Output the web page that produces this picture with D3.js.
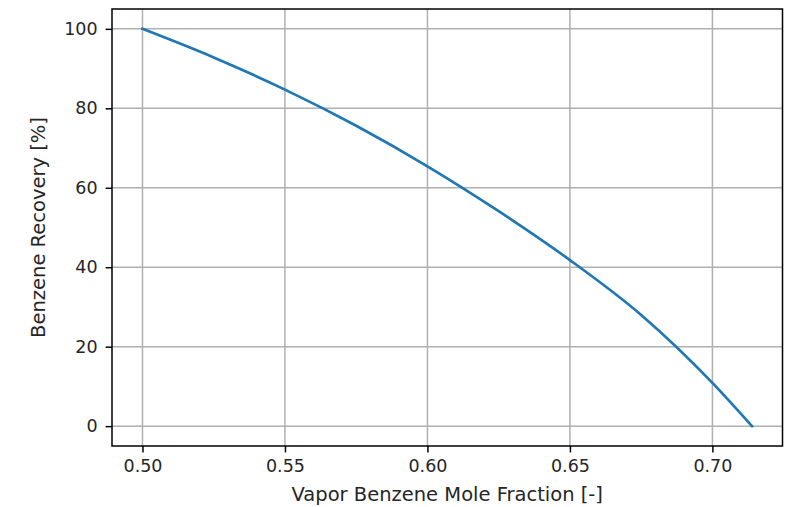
<!DOCTYPE html>
<html>
<head>
<meta charset="utf-8">
<script src="https://cdn.jsdelivr.net/npm/d3@7"></script>
<style>
  html, body { margin: 0; padding: 0; background: #fff; }
  svg { display: block; }
  text { font-family: "DejaVu Sans", sans-serif; fill: #262626; }
</style>
</head>
<body>
<svg id="chart" width="787" height="507"></svg>
<script>
// values
const vaporFraction = [0.50, 0.525, 0.55, 0.575, 0.60, 0.625, 0.65, 0.675, 0.70, 0.7139];
const recovery      = [100, 92.8, 84.7, 75.6, 65.4, 54.1, 41.8, 28.0, 10.9, 0];
const xTicks = [0.50, 0.55, 0.60, 0.65, 0.70];
const yTicks = [0, 20, 40, 60, 80, 100];

const W = 787, H = 507;
const margin = { top: 9, right: 4.5, bottom: 61, left: 112 };
const TICK_FONT = 17.5;
const LABEL_FONT = 19.5;

const svg = d3.select('#chart');
const innerW = W - margin.left - margin.right;
const innerH = H - margin.top - margin.bottom;

// matplotlib-style 5% margins around the data
const xMin = d3.min(vaporFraction), xMax = d3.max(vaporFraction);
const yMin = d3.min(recovery), yMax = d3.max(recovery);
const xPad = (xMax - xMin) * 0.05, yPad = (yMax - yMin) * 0.05;

const x = d3.scaleLinear().domain([xMin - xPad, xMax + xPad]).range([0, innerW]);
const y = d3.scaleLinear().domain([yMin - yPad, yMax + yPad]).range([innerH, 0]);

const g = svg.append('g').attr('transform', `translate(${margin.left},${margin.top})`);

// grid
g.append('g').selectAll('line').data(xTicks).join('line')
  .attr('x1', d => x(d)).attr('x2', d => x(d))
  .attr('y1', 0).attr('y2', innerH)
  .attr('stroke', '#b0b0b0').attr('stroke-width', 1.5);
g.append('g').selectAll('line').data(yTicks).join('line')
  .attr('x1', 0).attr('x2', innerW)
  .attr('y1', d => y(d)).attr('y2', d => y(d))
  .attr('stroke', '#b0b0b0').attr('stroke-width', 1.5);

// the curve
const data = vaporFraction.map((v, i) => ({ x: v, y: recovery[i] }));
g.append('path').datum(data)
  .attr('fill', 'none')
  .attr('stroke', '#1f77b4')
  .attr('stroke-width', 2.7)
  .attr('stroke-linecap', 'square')
  .attr('d', d3.line().x(d => x(d.x)).y(d => y(d.y)).curve(d3.curveMonotoneX));

// axes
const xAxis = g.append('g').attr('transform', `translate(0,${innerH})`)
  .call(d3.axisBottom(x).tickValues(xTicks).tickFormat(d3.format('.2f')).tickSize(6.4).tickPadding(7));
const yAxis = g.append('g')
  .call(d3.axisLeft(y).tickValues(yTicks).tickFormat(d3.format('d')).tickSize(6.4).tickPadding(8));

[xAxis, yAxis].forEach(a => {
  a.select('.domain').remove();
  a.selectAll('.tick line').attr('stroke', '#000').attr('stroke-width', 1.5);
  a.selectAll('.tick text').attr('font-size', TICK_FONT).attr('font-family', '"DejaVu Sans", sans-serif').attr('fill', '#262626');
});

// frame
g.append('rect').attr('width', innerW).attr('height', innerH)
  .attr('fill', 'none').attr('stroke', '#000').attr('stroke-width', 1.5);

// labels
svg.append('text')
  .attr('x', margin.left + innerW / 2).attr('y', 501)
  .attr('text-anchor', 'middle').attr('font-size', LABEL_FONT)
  .text('Vapor Benzene Mole Fraction [-]');

svg.append('text')
  .attr('transform', `translate(45,${margin.top + innerH / 2}) rotate(-90)`)
  .attr('text-anchor', 'middle').attr('font-size', LABEL_FONT)
  .text('Benzene Recovery [%]');
</script>
</body>
</html>
